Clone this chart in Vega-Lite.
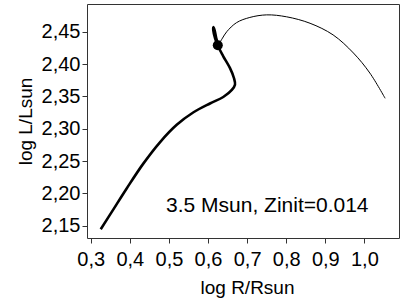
{
  "$schema": "https://vega.github.io/schema/vega-lite/v6.json",
  "width": 312,
  "height": 234,
  "autosize": {"type": "none"},
  "padding": {"left": 87, "top": 4, "right": 8, "bottom": 67},
  "background": "white",
  "config": {
    "locale": {"number": {"decimal": ",", "thousands": ".", "grouping": [3], "currency": ["", ""]}},
    "font": "Liberation Sans",
    "view": {"stroke": "#333333", "strokeWidth": 1},
    "axis": {"grid": false, "domain": false, "tickColor": "#333333", "tickSize": 5, "labelFontSize": 20, "labelColor": "#000000", "titleFontSize": 19, "titleColor": "#000000", "titleFontWeight": "normal", "labelFont": "Liberation Sans", "titleFont": "Liberation Sans"}
  },
  "datasets": {
    "thick": [
      {"i": 1, "logR": 0.3256, "logL": 2.1445},
      {"i": 2, "logR": 0.358, "logL": 2.1753},
      {"i": 3, "logR": 0.392, "logL": 2.2076},
      {"i": 4, "logR": 0.4345, "logL": 2.246},
      {"i": 5, "logR": 0.477, "logL": 2.279},
      {"i": 6, "logR": 0.52, "logL": 2.306},
      {"i": 7, "logR": 0.562, "logL": 2.325},
      {"i": 8, "logR": 0.605, "logL": 2.339},
      {"i": 9, "logR": 0.639, "logL": 2.349},
      {"i": 10, "logR": 0.661, "logL": 2.36},
      {"i": 11, "logR": 0.669, "logL": 2.368},
      {"i": 12, "logR": 0.6665, "logL": 2.378},
      {"i": 13, "logR": 0.656, "logL": 2.394},
      {"i": 14, "logR": 0.639, "logL": 2.412},
      {"i": 15, "logR": 0.626, "logL": 2.427},
      {"i": 16, "logR": 0.618, "logL": 2.44},
      {"i": 17, "logR": 0.6135, "logL": 2.452},
      {"i": 18, "logR": 0.6136, "logL": 2.457},
      {"i": 19, "logR": 0.617, "logL": 2.452},
      {"i": 20, "logR": 0.621, "logL": 2.44},
      {"i": 21, "logR": 0.625, "logL": 2.432}
    ],
    "thin": [
      {"i": 1, "logR": 0.629, "logL": 2.432},
      {"i": 2, "logR": 0.637, "logL": 2.44},
      {"i": 3, "logR": 0.648, "logL": 2.45},
      {"i": 4, "logR": 0.673, "logL": 2.464},
      {"i": 5, "logR": 0.707, "logL": 2.472},
      {"i": 6, "logR": 0.75, "logL": 2.476},
      {"i": 7, "logR": 0.801, "logL": 2.473},
      {"i": 8, "logR": 0.861, "logL": 2.463},
      {"i": 9, "logR": 0.92, "logL": 2.445},
      {"i": 10, "logR": 0.972, "logL": 2.417},
      {"i": 11, "logR": 1.014, "logL": 2.386},
      {"i": 12, "logR": 1.053, "logL": 2.347}
    ],
    "dot": [{"logR": 0.625, "logL": 2.429}],
    "label": [{"logR": 0.4926, "logL": 2.1717, "text": "3.5 Msun, Zinit=0.014"}]
  },
  "encoding": {
    "x": {"field": "logR", "type": "quantitative",
      "scale": {"domain": [0.2905, 1.0885], "nice": false, "zero": false},
      "axis": {"values": [0.3, 0.4, 0.5, 0.6, 0.7, 0.8, 0.9, 1.0], "format": ".1f", "title": "log R/Rsun", "labelPadding": 6, "titleX": 160, "titleY": 55, "titleBaseline": "alphabetic", "titleAlign": "center"}},
    "y": {"field": "logL", "type": "quantitative",
      "scale": {"domain": [2.131, 2.4928], "nice": false, "zero": false},
      "axis": {"values": [2.15, 2.2, 2.25, 2.3, 2.35, 2.4, 2.45], "format": ".2f", "title": "log L/Lsun", "labelPadding": 2, "titleX": -62, "titleY": 117, "titleAngle": -90, "titleBaseline": "middle", "titleAlign": "center"}}
  },
  "layer": [
    {"data": {"name": "thick"}, "mark": {"type": "line", "color": "#000000", "strokeWidth": 2.6, "interpolate": "catmull-rom"}, "encoding": {"order": {"field": "i", "type": "quantitative"}}},
    {"data": {"name": "thin"}, "mark": {"type": "line", "color": "#000000", "strokeWidth": 1, "interpolate": "catmull-rom"}, "encoding": {"order": {"field": "i", "type": "quantitative"}}},
    {"data": {"name": "dot"}, "mark": {"type": "point", "filled": true, "color": "#000000", "size": 100, "opacity": 1}},
    {"data": {"name": "label"}, "mark": {"type": "text", "align": "left", "baseline": "alphabetic", "fontSize": 21, "color": "#000000", "font": "Liberation Sans"}, "encoding": {"text": {"field": "text"}}}
  ]
}
